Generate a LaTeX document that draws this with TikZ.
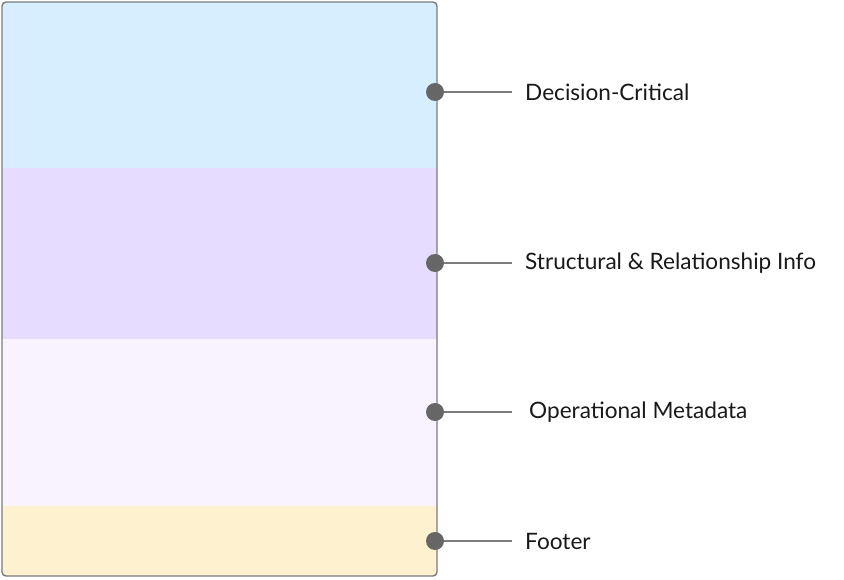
\documentclass[tikz,border=0pt]{standalone}
\usepackage{fontspec}
\setmainfont{Lato}
\definecolor{bandblue}{HTML}{D6EEFF}
\definecolor{bandpurple}{HTML}{E5DCFF}
\definecolor{bandlav}{HTML}{F9F3FF}
\definecolor{bandyellow}{HTML}{FDF1CF}
\definecolor{edgegray}{HTML}{7A7A80}
\definecolor{dotgray}{HTML}{666666}
\tikzset{
  band/.style={draw=none},
  pin/.style={circle, fill=dotgray, inner sep=0pt, minimum size=18pt},
  lead/.style={draw=dotgray!85, line width=1.3pt},
  lbl/.style={anchor=west, inner sep=0pt, font=\fontsize{22.6}{26}\selectfont, text=black!90}
}
\begin{document}
\begin{tikzpicture}[x=1pt,y=-1pt]
\useasboundingbox (0,0) rectangle (844,580);
\begin{scope}
\clip[rounded corners=4pt] (2,2) rectangle (437,576);
\fill[bandblue] (2,2) rectangle (437,168);
\fill[bandpurple] (2,168) rectangle (438,339);
\fill[bandlav] (2,339) rectangle (437,506);
\fill[bandyellow] (2,506) rectangle (437,576);
\end{scope}
\draw[edgegray, line width=1.4pt, rounded corners=4pt] (2,2) rectangle (437,576);
\node[pin] (p1) at (435,92) {};
\node[pin] (p2) at (435,263) {};
\node[pin] (p3) at (435,412) {};
\node[pin] (p4) at (435,541) {};
\coordinate (e1) at (512,92);
\coordinate (e2) at (512,263);
\coordinate (e3) at (512,412);
\coordinate (e4) at (512,541);
\draw[lead] (p1.east) -- (e1);
\draw[lead] (p2.east) -- (e2);
\draw[lead] (p3.east) -- (e3);
\draw[lead] (p4.east) -- (e4);
\node[lbl] (l1) at (525,92) {Decision-Critical};
\node[lbl] (l2) at (525,263) {Structural \& Relationship Info};
\node[lbl] (l3) at (529,412) {Operational Metadata};
\node[lbl] (l4) at (525,541) {Footer};
\end{tikzpicture}
\end{document}
